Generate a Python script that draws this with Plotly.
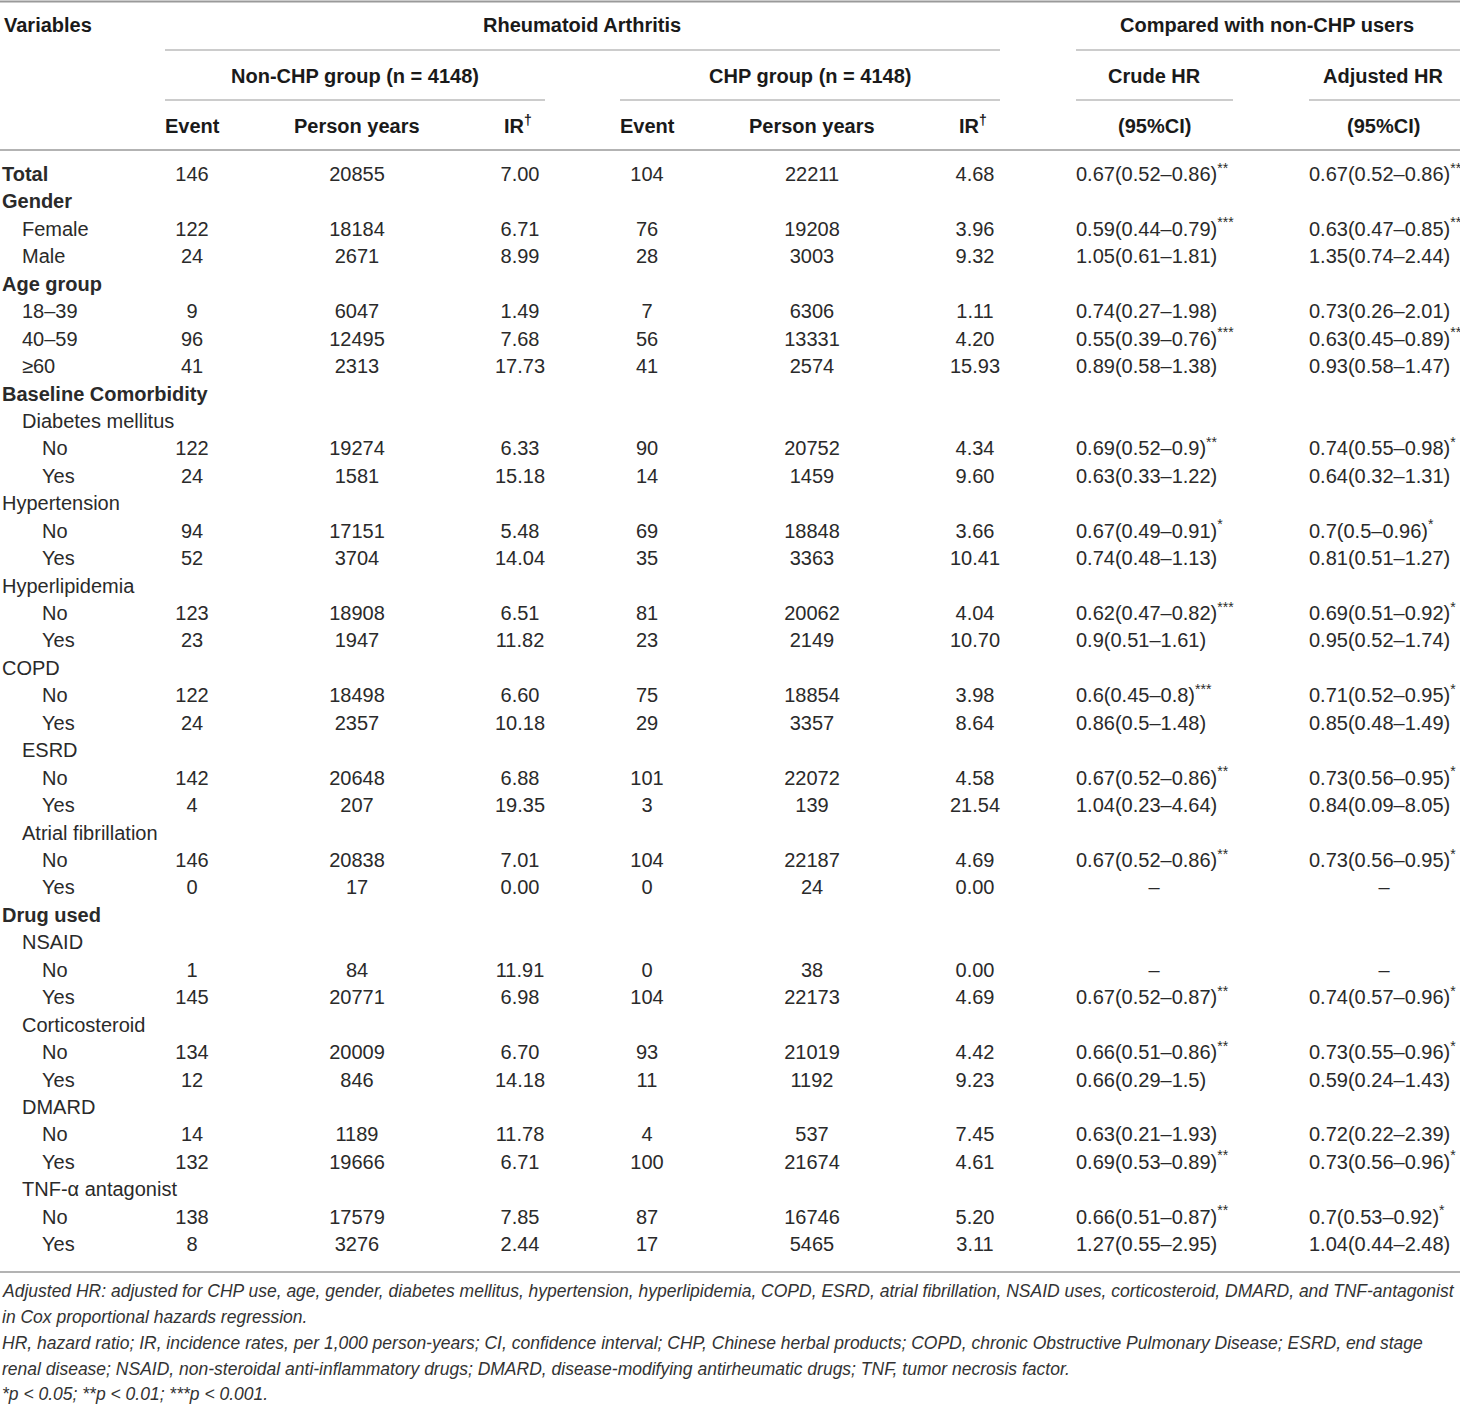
import plotly.graph_objects as go

# row labels, indent level and bold flag
labels = ["Total", "Gender", "Female", "Male", "Age group", "18–39", "40–59", "≥60",
          "Baseline Comorbidity", "Diabetes mellitus", "No", "Yes", "Hypertension", "No", "Yes",
          "Hyperlipidemia", "No", "Yes", "COPD", "No", "Yes", "ESRD", "No", "Yes",
          "Atrial fibrillation", "No", "Yes", "Drug used", "NSAID", "No", "Yes",
          "Corticosteroid", "No", "Yes", "DMARD", "No", "Yes", "TNF-α antagonist", "No", "Yes"]
levels = [0, 0, 1, 1, 0, 1, 1, 1, 0, 1, 2, 2, 0, 2, 2, 0, 2, 2, 0, 2, 2, 1, 2, 2,
          1, 2, 2, 0, 1, 2, 2, 1, 2, 2, 1, 2, 2, 1, 2, 2]
bold_rows = ["Total", "Gender", "Age group", "Baseline Comorbidity", "Drug used"]

N = None
non_event = [146, N, 122, 24, N, 9, 96, 41, N, N, 122, 24, N, 94, 52, N, 123, 23, N, 122, 24,
             N, 142, 4, N, 146, 0, N, N, 1, 145, N, 134, 12, N, 14, 132, N, 138, 8]
non_py = [20855, N, 18184, 2671, N, 6047, 12495, 2313, N, N, 19274, 1581, N, 17151, 3704,
          N, 18908, 1947, N, 18498, 2357, N, 20648, 207, N, 20838, 17, N, N, 84, 20771,
          N, 20009, 846, N, 1189, 19666, N, 17579, 3276]
non_ir = [7.00, N, 6.71, 8.99, N, 1.49, 7.68, 17.73, N, N, 6.33, 15.18, N, 5.48, 14.04,
          N, 6.51, 11.82, N, 6.60, 10.18, N, 6.88, 19.35, N, 7.01, 0.00, N, N, 11.91, 6.98,
          N, 6.70, 14.18, N, 11.78, 6.71, N, 7.85, 2.44]
chp_event = [104, N, 76, 28, N, 7, 56, 41, N, N, 90, 14, N, 69, 35, N, 81, 23, N, 75, 29,
             N, 101, 3, N, 104, 0, N, N, 0, 104, N, 93, 11, N, 4, 100, N, 87, 17]
chp_py = [22211, N, 19208, 3003, N, 6306, 13331, 2574, N, N, 20752, 1459, N, 18848, 3363,
          N, 20062, 2149, N, 18854, 3357, N, 22072, 139, N, 22187, 24, N, N, 38, 22173,
          N, 21019, 1192, N, 537, 21674, N, 16746, 5465]
chp_ir = [4.68, N, 3.96, 9.32, N, 1.11, 4.20, 15.93, N, N, 4.34, 9.60, N, 3.66, 10.41,
          N, 4.04, 10.70, N, 3.98, 8.64, N, 4.58, 21.54, N, 4.69, 0.00, N, N, 0.00, 4.69,
          N, 4.42, 9.23, N, 7.45, 4.61, N, 5.20, 3.11]

crude_hr = ["0.67(0.52–0.86)", "", "0.59(0.44–0.79)", "1.05(0.61–1.81)", "",
            "0.74(0.27–1.98)", "0.55(0.39–0.76)", "0.89(0.58–1.38)", "", "",
            "0.69(0.52–0.9)", "0.63(0.33–1.22)", "", "0.67(0.49–0.91)", "0.74(0.48–1.13)",
            "", "0.62(0.47–0.82)", "0.9(0.51–1.61)", "", "0.6(0.45–0.8)", "0.86(0.5–1.48)",
            "", "0.67(0.52–0.86)", "1.04(0.23–4.64)", "", "0.67(0.52–0.86)", "–", "", "",
            "–", "0.67(0.52–0.87)", "", "0.66(0.51–0.86)", "0.66(0.29–1.5)", "",
            "0.63(0.21–1.93)", "0.69(0.53–0.89)", "", "0.66(0.51–0.87)", "1.27(0.55–2.95)"]
crude_sig = ["**", "", "***", "", "", "", "***", "", "", "", "**", "", "", "*", "",
             "", "***", "", "", "***", "", "", "**", "", "", "**", "", "", "",
             "", "**", "", "**", "", "", "", "**", "", "**", ""]
adj_hr = ["0.67(0.52–0.86)", "", "0.63(0.47–0.85)", "1.35(0.74–2.44)", "",
          "0.73(0.26–2.01)", "0.63(0.45–0.89)", "0.93(0.58–1.47)", "", "",
          "0.74(0.55–0.98)", "0.64(0.32–1.31)", "", "0.7(0.5–0.96)", "0.81(0.51–1.27)",
          "", "0.69(0.51–0.92)", "0.95(0.52–1.74)", "", "0.71(0.52–0.95)", "0.85(0.48–1.49)",
          "", "0.73(0.56–0.95)", "0.84(0.09–8.05)", "", "0.73(0.56–0.95)", "–", "", "",
          "–", "0.74(0.57–0.96)", "", "0.73(0.55–0.96)", "0.59(0.24–1.43)", "",
          "0.72(0.22–2.39)", "0.73(0.56–0.96)", "", "0.7(0.53–0.92)", "1.04(0.44–2.48)"]
adj_sig = ["**", "", "**", "", "", "", "**", "", "", "", "*", "", "", "*", "",
           "", "*", "", "", "*", "", "", "*", "", "", "*", "", "", "",
           "", "*", "", "*", "", "", "", "*", "", "*", ""]

footnotes = [
    "Adjusted HR: adjusted for CHP use, age, gender, diabetes mellitus, hypertension, hyperlipidemia, COPD, ESRD, atrial fibrillation, NSAID uses, corticosteroid, DMARD, and TNF-antagonist",
    "in Cox proportional hazards regression.",
    "HR, hazard ratio; IR, incidence rates, per 1,000 person-years; CI, confidence interval; CHP, Chinese herbal products; COPD, chronic Obstructive Pulmonary Disease; ESRD, end stage",
    "renal disease; NSAID, non-steroidal anti-inflammatory drugs; DMARD, disease-modifying antirheumatic drugs; TNF, tumor necrosis factor.",
    "*p < 0.05; **p < 0.01; ***p < 0.001.",
]

# layout (pixels)
W, H = 1460, 1405
row0, pitch = 176, 27.44
FONT = "Liberation Sans, Arial, sans-serif"
body = dict(family=FONT, size=20, color="#2a2a2a")
head = dict(family=FONT, size=20, color="#1a1a1a")
line_col = "#9a9a9a"

ys = [row0 + i * pitch for i in range(len(labels))]


def fmt(vals, dec=None):
    out = []
    for v in vals:
        if v is None:
            out.append("")
        elif dec is None:
            out.append(str(v))
        else:
            out.append(f"{v:.{dec}f}")
    return out


def hr_text(vals, sigs):
    return [v + (f"<sup>{s}</sup>" if s else "") for v, s in zip(vals, sigs)]


fig = go.Figure()


def add_col(xs, texts, pos="middle center"):
    keep = [i for i, t in enumerate(texts) if t]
    fig.add_trace(go.Scatter(x=[xs[i] for i in keep], y=[ys[i] for i in keep],
                             text=[texts[i] for i in keep], mode="text", textposition=pos,
                             textfont=body, hoverinfo="skip", showlegend=False))


# first column
add_col([2 + 20 * lv for lv in levels],
        [f"<b>{t}</b>" if t in bold_rows else t for t in labels], "middle right")

centers = [192, 357, 520, 647, 812, 975]
for cx, col in zip(centers, [fmt(non_event), fmt(non_py), fmt(non_ir, 2),
                             fmt(chp_event), fmt(chp_py), fmt(chp_ir, 2)]):
    add_col([cx] * len(ys), col)

# HR columns: left aligned, dash centred
for left, mid, vals, sigs in [(1076, 1154, crude_hr, crude_sig), (1309, 1384, adj_hr, adj_sig)]:
    txt = hr_text(vals, sigs)
    left_t = [t if t != "–" else "" for t in txt]
    mid_t = [t if t == "–" else "" for t in txt]
    add_col([left] * len(ys), left_t, "middle right")
    add_col([mid] * len(ys), mid_t, "middle center")

# header text
headers = [
    (2, 25, "Variables", "left"),
    (582, 25, "Rheumatoid Arthritis", "center"),
    (1267, 25, "Compared with non-CHP users", "center"),
    (355, 76, "Non-CHP group (n = 4148)", "center"),
    (810, 76, "CHP group (n = 4148)", "center"),
    (1154, 76, "Crude HR", "center"),
    (1383, 76, "Adjusted HR", "center"),
    (192, 126, "Event", "center"),
    (357, 126, "Person years", "center"),
    (518, 124, "IR<sup>†</sup>", "center"),
    (647, 126, "Event", "center"),
    (812, 126, "Person years", "center"),
    (973, 124, "IR<sup>†</sup>", "center"),
    (1154, 126, "(95%CI)", "center"),
    (1383, 126, "(95%CI)", "center"),
]
for x, y, t, al in headers:
    fig.add_annotation(x=x, y=y, text=f"<b>{t}</b>", showarrow=False, xanchor=al,
                       yanchor="middle", font=head, xref="x", yref="y")

# rules
rules = [(0, 1460, 1.5, 2), (165, 1000, 50, 1.2), (1076, 1460, 50, 1.2),
         (165, 545, 100, 1.2), (620, 1000, 100, 1.2), (1076, 1233, 100, 1.2),
         (1309, 1460, 100, 1.2), (0, 1460, 150, 1.5), (0, 1460, 1272, 1.5)]
for x0, x1, y, w in rules:
    fig.add_shape(type="line", x0=x0, x1=x1, y0=y, y1=y, xref="x", yref="y",
                  line=dict(color=line_col, width=w))

# footnotes
foot_y = [1291, 1317, 1343, 1369, 1394]
for y, t in zip(foot_y, footnotes):
    fig.add_annotation(x=0, y=y, text=f"<i>{t}</i>", showarrow=False, xanchor="left",
                       yanchor="middle", xref="x", yref="y",
                       font=dict(family=FONT, size=17.5, color="#333333"))

fig.update_layout(
    width=W, height=H, margin=dict(l=0, r=0, t=0, b=0),
    paper_bgcolor="white", plot_bgcolor="white",
    xaxis=dict(range=[0, W], visible=False, fixedrange=True),
    yaxis=dict(range=[H, 0], visible=False, fixedrange=True),
)

fig.write_html("out.html", config={"displayModeBar": False},
               post_script="document.body.style.margin='0';")
